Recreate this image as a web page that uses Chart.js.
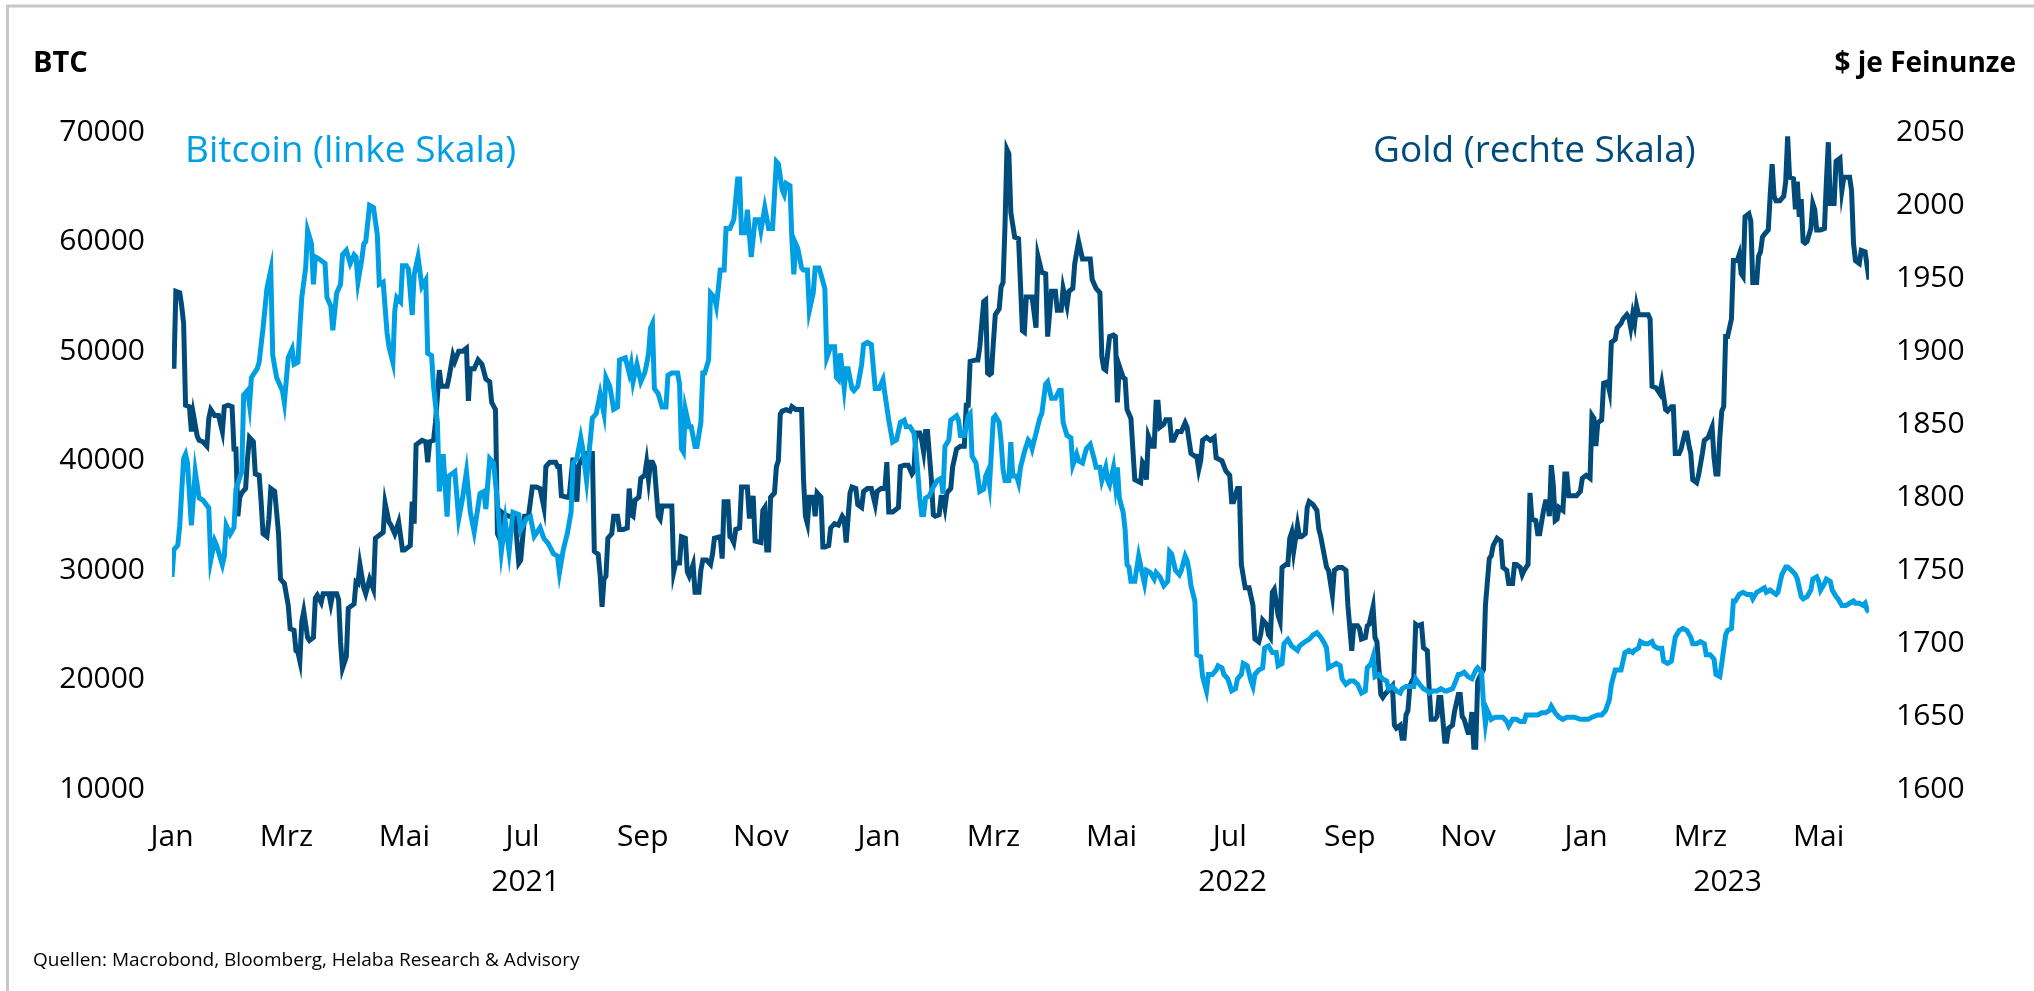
<!DOCTYPE html>
<html lang="de">
<head>
<meta charset="utf-8">
<title>Bitcoin und Gold</title>
<script src="https://cdn.jsdelivr.net/npm/chart.js@4.4.1/dist/chart.umd.min.js"></script>
<style>
  html, body { margin: 0; padding: 0; background: #ffffff; }
  body { width: 2034px; height: 991px; position: relative; overflow: hidden; font-family: 'Open Sans', sans-serif; }
  #chart { position: absolute; left: 0; top: 0; }
  #overlay { position: absolute; left: 0; top: 0; pointer-events: none; }
</style>
</head>
<body>
<canvas id="chart" width="2034" height="991"></canvas>
<svg id="overlay" width="2034" height="991" xmlns="http://www.w3.org/2000/svg" font-family="'Open Sans', sans-serif">
  <path d="M7.5 991 V6 H2034" fill="none" stroke="#c8c8c8" stroke-width="3"/>
  <text x="33" y="72" font-size="29" font-weight="700" fill="#000000">BTC</text>
  <text x="2016" y="72" font-size="28" font-weight="700" fill="#000000" text-anchor="end">$ je Feinunze</text>
  <text x="185" y="162" font-size="37" fill="#009fe3">Bitcoin (linke Skala)</text>
  <text x="1373" y="162" font-size="37" fill="#004b7a">Gold (rechte Skala)</text>
  <text x="33" y="966" font-size="19" fill="#000000">Quellen: Macrobond, Bloomberg, Helaba Research &amp; Advisory</text>
</svg>
<script>
// Days counted from 1 January 2021.
const btcDay = [
  0, 1, 3, 4, 6, 7, 8, 10, 12, 14,
  16, 19, 20, 22, 23, 26, 27, 28, 30, 32,
  33, 36, 37, 39, 40, 41, 44, 45, 47, 49,
  51, 52, 54, 57, 58, 60, 62, 63, 65, 66,
  67, 69, 70, 72, 73, 74, 76, 79, 80, 82,
  83, 85, 87, 88, 90, 92, 94, 95, 96, 98,
  99, 100, 102, 104, 106, 107, 109, 111, 112, 114,
  115, 116, 118, 119, 121, 122, 124, 125, 127, 129,
  131, 132, 134, 135, 137, 138, 140, 142, 143, 146,
  148, 150, 152, 154, 156, 159, 161, 162, 164, 166,
  168, 170, 172, 174, 176, 179, 180, 183, 185, 187,
  190, 192, 194, 197, 199, 200, 202, 204, 206, 207,
  209, 211, 212, 214, 215, 217, 219, 221, 223, 224,
  226, 228, 230, 231, 234, 236, 237, 238, 240, 242,
  244, 245, 246, 247, 248, 249, 251, 253, 255, 256,
  258, 261, 262, 263, 264, 265, 267, 268, 270, 271,
  273, 274, 275, 277, 278, 280, 281, 282, 283, 285,
  286, 288, 290, 292, 293, 294, 296, 297, 299, 301,
  303, 304, 306, 308, 310, 312, 313, 315, 316, 317,
  319, 320, 321, 322, 323, 325, 326, 328, 329, 331,
  332, 334, 335, 337, 338, 340, 342, 343, 344, 345,
  347, 348, 349, 351, 352, 354, 356, 357, 359, 361,
  363, 365, 367, 368, 370, 371, 372, 374, 376, 378,
  379, 381, 383, 384, 386, 387, 388, 389, 391, 393,
  395, 397, 398, 399, 401, 402, 405, 406, 407, 409,
  411, 412, 413, 415, 417, 419, 420, 421, 422, 424,
  425, 427, 428, 429, 430, 432, 433, 434, 436, 437,
  438, 440, 442, 443, 444, 446, 448, 449, 451, 452,
  454, 456, 458, 459, 460, 462, 464, 465, 467, 468,
  470, 472, 474, 476, 477, 479, 480, 482, 483, 484,
  486, 487, 488, 489, 491, 492, 493, 494, 495, 497,
  499, 501, 502, 503, 505, 507, 508, 510, 512, 514,
  515, 516, 518, 520, 521, 523, 524, 525, 526, 528,
  529, 531, 532, 534, 535, 537, 539, 540, 542, 543,
  545, 547, 549, 550, 552, 553, 555, 557, 558, 559,
  561, 563, 564, 566, 568, 570, 571, 573, 574, 576,
  578, 581, 582, 585, 587, 589, 591, 593, 595, 596,
  597, 599, 601, 603, 604, 606, 608, 610, 612, 614,
  616, 617, 619, 620, 621, 623, 625, 627, 628, 630,
  632, 634, 635, 637, 639, 641, 642, 644, 646, 648,
  649, 651, 653, 655, 657, 658, 661, 662, 664, 665,
  667, 669, 671, 673, 674, 676, 677, 678, 679, 681,
  683, 685, 687, 689, 690, 692, 694, 696, 698, 699,
  701, 703, 705, 707, 709, 711, 712, 714, 716, 718,
  720, 722, 724, 727, 729, 731, 733, 736, 738, 740,
  742, 743, 745, 747, 748, 750, 752, 754, 755, 757,
  758, 760, 762, 764, 765, 767, 769, 770, 772, 774,
  776, 778, 780, 782, 784, 785, 787, 789, 791, 792,
  794, 796, 797, 799, 800, 802, 803, 805, 806, 807,
  809, 811, 813, 815, 816, 818, 820, 822, 823, 825,
  828, 829, 831, 833, 834, 836, 838, 839, 841, 842,
  844, 846, 847, 849, 850, 851, 853, 854, 856, 857,
  859, 860, 862, 864, 866, 868, 869, 871, 873, 874,
  875, 876
];

// Bitcoin in US-Dollar (left scale).
const btcUsd = [
  29400, 31900, 32300, 34100, 40200, 40600, 39800, 34100, 39000, 36600,
  36400, 35700, 30900, 32700, 32300, 30500, 31300, 34100, 33300, 33900,
  37400, 39000, 46000, 46400, 45100, 47600, 48400, 49000, 52100, 55700,
  57400, 49600, 47600, 46400, 45300, 49400, 50200, 48800, 49000, 52100,
  54900, 57600, 61000, 59800, 56100, 58600, 58400, 58000, 54900, 54100,
  51900, 55300, 56100, 58800, 59200, 58000, 58800, 58600, 56300, 58400,
  59800, 60000, 63300, 63100, 60600, 56100, 56300, 51700, 50400, 49000,
  53700, 54900, 54500, 57800, 57800, 57500, 53300, 57000, 58600, 55900,
  56500, 49800, 49600, 46800, 43500, 37200, 40600, 34900, 38600, 39000,
  34700, 36600, 39000, 35300, 33500, 37000, 37200, 35600, 40200, 39800,
  36200, 31700, 34500, 31700, 35300, 35100, 33700, 34700, 34900, 33100,
  33900, 32900, 32500, 31500, 31300, 29800, 31900, 33300, 35300, 39800,
  40200, 42100, 41100, 38200, 40200, 43900, 44300, 46100, 44300, 47600,
  46800, 44700, 44900, 49200, 49400, 48000, 48800, 47200, 48800, 47200,
  48000, 48800, 49800, 52100, 52500, 46600, 46100, 44900, 44900, 47800,
  48000, 48000, 47000, 41100, 40800, 44700, 43100, 43100, 41300, 41300,
  43500, 48000, 48000, 49200, 55300, 54900, 54100, 55700, 57400, 57400,
  61200, 61200, 62000, 65700, 65700, 60800, 60800, 62900, 58600, 62000,
  62000, 61000, 63100, 61200, 61200, 67300, 67100, 64700, 64300, 65300,
  65100, 60200, 57000, 59800, 59400, 57600, 57400, 57400, 53700, 55300,
  57600, 57600, 57000, 55700, 49400, 50400, 50400, 47600, 47400, 49800,
  46600, 48400, 48400, 46600, 46400, 46800, 48800, 50600, 50800, 50600,
  46600, 46600, 47400, 46100, 43700, 42700, 41700, 41900, 43500, 43700,
  43100, 43100, 42500, 41100, 36600, 35100, 35100, 36600, 36800, 37600,
  38200, 38400, 37000, 41300, 41900, 43700, 44100, 43700, 42300, 42300,
  44100, 44300, 40400, 39800, 37200, 37400, 38600, 39000, 37800, 43900,
  44100, 43500, 41700, 39200, 38200, 38200, 41700, 38600, 38600, 38000,
  39400, 40800, 41900, 41700, 41100, 42500, 43900, 44300, 47000, 47200,
  45700, 45700, 46400, 46400, 43500, 42300, 42100, 39600, 40600, 40000,
  39800, 41100, 41500, 40200, 39400, 39400, 38200, 39400, 38200, 37800,
  39400, 37800, 39400, 36600, 35300, 33700, 30500, 30300, 29000, 29000,
  31300, 29600, 28800, 30000, 29800, 29200, 29800, 29400, 28600, 29000,
  31700, 31500, 30000, 29600, 30000, 31300, 30900, 30000, 28600, 27200,
  22300, 22100, 20300, 19000, 20500, 20500, 20900, 21300, 21100, 20500,
  20100, 19000, 19200, 20100, 20500, 21500, 21300, 19900, 19400, 20500,
  20900, 21100, 22900, 23100, 22500, 22500, 21300, 21500, 23300, 23700,
  23100, 22700, 23100, 23500, 23700, 24100, 24300, 23900, 23300, 22900,
  21100, 21300, 21500, 21300, 20100, 19600, 19900, 19900, 19600, 18800,
  19000, 21100, 21500, 22100, 20300, 20500, 20100, 19900, 19200, 19400,
  19000, 18800, 19200, 19400, 19400, 19400, 20100, 19600, 19200, 19000,
  18800, 19000, 19000, 19200, 19000, 19000, 19200, 19600, 20500, 20500,
  20700, 20300, 20100, 20900, 21100, 20700, 17800, 16000, 17200, 16400,
  16600, 16600, 16600, 16200, 15800, 16400, 16400, 16200, 16200, 16800,
  16800, 16800, 16800, 17000, 17000, 17200, 17600, 17000, 16600, 16400,
  16600, 16600, 16600, 16400, 16400, 16400, 16600, 16800, 16800, 17200,
  18200, 19600, 20900, 20900, 20900, 22500, 22700, 22500, 22700, 22900,
  23500, 23300, 23300, 23500, 23100, 22900, 22900, 21700, 21500, 21700,
  23900, 24500, 24700, 24500, 23900, 23300, 23300, 23500, 23300, 22300,
  22300, 21900, 20500, 20300, 21500, 24100, 24500, 24700, 27200, 27200,
  27800, 28000, 27800, 27800, 27400, 28000, 28200, 28400, 28000, 28200,
  27800, 28000, 29600, 30300, 30300, 30000, 29600, 29200, 27600, 27400,
  27600, 28200, 29200, 29400, 29000, 28200, 28800, 29200, 29000, 28200,
  27600, 27400, 26800, 26800, 27000, 27200, 27000, 27000, 26800, 27000,
  26400, 26200
];

// Trading days for gold, counted from 1 January 2021.
const goldDay = [
  1, 2, 4, 5, 6, 7, 9, 10, 11, 13,
  14, 16, 18, 19, 20, 22, 24, 26, 27, 29,
  31, 32, 33, 34, 35, 36, 38, 39, 40, 42,
  43, 45, 46, 47, 49, 50, 51, 53, 54, 55,
  56, 58, 60, 61, 63, 64, 65, 66, 67, 68,
  70, 71, 73, 74, 75, 77, 78, 81, 82, 83,
  85, 86, 87, 88, 90, 91, 92, 94, 95, 96,
  97, 99, 100, 102, 104, 105, 106, 109, 110, 112,
  113, 115, 117, 119, 120, 123, 124, 125, 126, 129,
  131, 132, 133, 135, 136, 138, 139, 142, 143, 145,
  146, 148, 150, 152, 153, 154, 156, 158, 160, 162,
  164, 165, 167, 168, 169, 170, 172, 174, 177, 179,
  180, 182, 184, 186, 188, 190, 192, 193, 195, 198,
  199, 200, 201, 204, 205, 207, 209, 210, 212, 214,
  217, 218, 220, 221, 222, 223, 224, 225, 227, 228,
  230, 231, 233, 235, 236, 237, 238, 239, 241, 242,
  244, 245, 246, 247, 248, 249, 251, 252, 253, 255,
  257, 258, 259, 260, 262, 263, 265, 266, 267, 269,
  270, 272, 273, 274, 276, 278, 279, 280, 283, 284,
  285, 287, 288, 289, 290, 291, 293, 294, 297, 298,
  299, 300, 301, 304, 305, 306, 307, 308, 309, 311,
  312, 313, 314, 315, 317, 319, 320, 322, 325, 326,
  327, 328, 329, 331, 332, 333, 335, 336, 337, 339,
  340, 342, 344, 346, 347, 348, 350, 351, 353, 354,
  356, 357, 359, 361, 363, 364, 366, 368, 369, 370,
  372, 373, 375, 376, 378, 380, 382, 383, 384, 386,
  387, 388, 389, 390, 392, 393, 394, 396, 397, 398,
  399, 400, 402, 403, 405, 407, 409, 410, 411, 412,
  415, 416, 417, 419, 420, 421, 422, 423, 424, 425,
  427, 428, 429, 430, 431, 432, 433, 435, 437, 439,
  440, 441, 443, 444, 446, 447, 449, 451, 452, 454,
  456, 457, 459, 460, 462, 463, 465, 466, 468, 470,
  472, 474, 475, 477, 479, 480, 481, 482, 484, 486,
  487, 488, 489, 491, 492, 493, 495, 496, 497, 500,
  501, 502, 503, 504, 506, 507, 508, 509, 510, 512,
  513, 515, 516, 517, 519, 521, 523, 524, 526, 528,
  529, 530, 531, 532, 534, 536, 538, 539, 542, 544,
  546, 547, 548, 550, 551, 552, 554, 556, 558, 559,
  561, 562, 563, 565, 566, 567, 568, 569, 571, 572,
  573, 575, 576, 577, 578, 579, 581, 582, 583, 585,
  586, 587, 589, 591, 592, 593, 594, 596, 597, 599,
  600, 602, 604, 606, 607, 609, 610, 612, 613, 614,
  616, 617, 618, 620, 621, 622, 624, 625, 626, 628,
  630, 631, 632, 634, 635, 636, 637, 638, 639, 640,
  641, 642, 643, 645, 646, 648, 649, 650, 652, 653,
  654, 655, 657, 658, 659, 661, 662, 664, 665, 666,
  667, 669, 670, 671, 672, 673, 674, 675, 677, 678,
  680, 681, 682, 684, 686, 687, 689, 690, 692, 693,
  694, 696, 697, 698, 700, 701, 702, 704, 705, 706,
  708, 709, 710, 711, 712, 713, 714, 715, 716, 718,
  719, 720, 721, 723, 725, 727, 728, 730, 732, 733,
  734, 735, 736, 738, 739, 741, 742, 743, 745, 746,
  748, 749, 751, 752, 753, 754, 755, 756, 757, 760,
  762, 763, 764, 766, 768, 769, 771, 772, 774, 775,
  776, 778, 779, 781, 782, 783, 784, 785, 787, 788,
  790, 791, 793, 795, 796, 797, 798, 799, 800, 801,
  802, 803, 805, 806, 808, 809, 810, 811, 812, 814,
  815, 816, 818, 819, 820, 821, 822, 824, 825, 826,
  827, 828, 830, 832, 833, 834, 835, 837, 838, 839,
  840, 841, 842, 843, 844, 846, 847, 848, 849, 851,
  853, 854, 855, 856, 858, 859, 861, 862, 863, 866,
  867, 868, 869, 871, 872, 874, 876
];

// Gold in US-Dollar per troy ounce (right scale).
const goldUsd = [
  1888, 1941, 1940, 1931, 1919, 1863, 1862, 1845, 1857, 1842,
  1839, 1838, 1835, 1854, 1860, 1856, 1856, 1845, 1862, 1863,
  1862, 1833, 1833, 1787, 1800, 1803, 1806, 1827, 1841, 1838,
  1816, 1815, 1797, 1775, 1773, 1785, 1806, 1804, 1790, 1775,
  1744, 1741, 1726, 1710, 1709, 1695, 1694, 1688, 1715, 1722,
  1704, 1702, 1704, 1731, 1733, 1728, 1734, 1734, 1727, 1734,
  1734, 1730, 1701, 1683, 1691, 1724, 1725, 1727, 1742, 1741,
  1754, 1738, 1734, 1744, 1737, 1772, 1773, 1776, 1796, 1783,
  1781, 1775, 1783, 1764, 1764, 1767, 1797, 1782, 1836, 1839,
  1838, 1824, 1838, 1839, 1851, 1887, 1876, 1876, 1882, 1897,
  1893, 1900, 1900, 1902, 1866, 1888, 1888, 1894, 1891, 1881,
  1879, 1865, 1860, 1775, 1772, 1790, 1788, 1787, 1787, 1755,
  1757, 1787, 1787, 1807, 1807, 1806, 1793, 1821, 1824, 1824,
  1821, 1821, 1801, 1800, 1800, 1827, 1797, 1822, 1827, 1830,
  1830, 1763, 1761, 1747, 1725, 1744, 1746, 1772, 1775, 1787,
  1787, 1778, 1778, 1779, 1806, 1788, 1787, 1798, 1800, 1813,
  1815, 1824, 1812, 1824, 1824, 1821, 1787, 1785, 1794, 1794,
  1794, 1794, 1749, 1755, 1755, 1773, 1772, 1749, 1746, 1754,
  1735, 1735, 1750, 1757, 1757, 1754, 1761, 1772, 1773, 1758,
  1797, 1797, 1773, 1772, 1769, 1778, 1779, 1807, 1807, 1787,
  1787, 1801, 1770, 1769, 1791, 1793, 1764, 1764, 1800, 1803,
  1821, 1825, 1857, 1859, 1860, 1859, 1862, 1860, 1860, 1812,
  1787, 1782, 1800, 1800, 1787, 1803, 1800, 1766, 1766, 1767,
  1779, 1782, 1781, 1787, 1785, 1769, 1803, 1807, 1806, 1795,
  1793, 1804, 1806, 1806, 1795, 1804, 1806, 1806, 1824, 1790,
  1790, 1791, 1793, 1821, 1822, 1822, 1816, 1818, 1844, 1844,
  1839, 1831, 1845, 1845, 1812, 1788, 1787, 1788, 1800, 1800,
  1793, 1803, 1806, 1821, 1833, 1835, 1835, 1863, 1863, 1893,
  1894, 1894, 1903, 1934, 1935, 1885, 1884, 1885, 1906, 1925,
  1929, 1944, 1947, 1986, 2038, 2035, 1995, 1978, 1977, 1914,
  1913, 1937, 1937, 1937, 1916, 1965, 1954, 1953, 1910, 1941,
  1941, 1928, 1928, 1943, 1931, 1941, 1943, 1960, 1975, 1963,
  1963, 1963, 1949, 1943, 1940, 1896, 1888, 1887, 1910, 1911,
  1910, 1865, 1890, 1882, 1881, 1860, 1854, 1833, 1812, 1810,
  1824, 1822, 1812, 1842, 1835, 1835, 1865, 1865, 1848, 1850,
  1853, 1853, 1839, 1839, 1845, 1845, 1851, 1848, 1830, 1828,
  1828, 1819, 1825, 1839, 1841, 1839, 1841, 1827, 1825, 1818,
  1815, 1797, 1797, 1806, 1806, 1754, 1738, 1738, 1726, 1703,
  1701, 1706, 1716, 1713, 1706, 1704, 1735, 1737, 1719, 1715,
  1752, 1754, 1754, 1772, 1776, 1763, 1781, 1773, 1773, 1775,
  1793, 1797, 1795, 1791, 1778, 1773, 1766, 1752, 1750, 1733,
  1750, 1752, 1752, 1750, 1726, 1695, 1712, 1712, 1710, 1703,
  1704, 1712, 1713, 1725, 1704, 1701, 1665, 1663, 1665, 1668,
  1671, 1644, 1642, 1644, 1635, 1635, 1651, 1654, 1671, 1674,
  1676, 1713, 1712, 1713, 1697, 1695, 1668, 1648, 1648, 1650,
  1663, 1663, 1633, 1633, 1642, 1644, 1653, 1665, 1665, 1650,
  1648, 1639, 1639, 1653, 1629, 1629, 1674, 1677, 1682, 1726,
  1758, 1760, 1767, 1772, 1770, 1752, 1750, 1741, 1741, 1754,
  1754, 1752, 1747, 1750, 1754, 1803, 1785, 1784, 1775, 1775,
  1791, 1797, 1797, 1787, 1822, 1809, 1784, 1785, 1793, 1791,
  1816, 1816, 1801, 1801, 1801, 1804, 1813, 1815, 1813, 1856,
  1854, 1835, 1851, 1853, 1878, 1879, 1873, 1906, 1908, 1916,
  1919, 1922, 1925, 1923, 1916, 1925, 1919, 1931, 1925, 1925,
  1925, 1922, 1876, 1875, 1871, 1878, 1860, 1859, 1862, 1862,
  1830, 1830, 1833, 1844, 1844, 1836, 1830, 1812, 1810, 1815,
  1830, 1839, 1841, 1848, 1827, 1816, 1816, 1841, 1859, 1862,
  1910, 1910, 1922, 1962, 1962, 1966, 1953, 1951, 1992, 1994,
  1989, 1947, 1947, 1965, 1968, 1978, 1980, 1983, 2007, 2028,
  2006, 2003, 2003, 2006, 2016, 2047, 2019, 2018, 1997, 2016,
  1992, 2004, 1975, 1974, 1975, 1984, 2001, 1997, 1983, 1983,
  1984, 2016, 2043, 2001, 2001, 2030, 2032, 2010, 2019, 2019,
  2010, 1974, 1962, 1960, 1969, 1968, 1949
];

// Month ticks on the time axis (first day of every second month).
const monthTickDay = [0, 59, 120, 181, 243, 304, 365, 424, 485, 546, 608, 669, 730, 789, 850];
const monthTickLabel = ['Jan', 'Mrz', 'Mai', 'Jul', 'Sep', 'Nov', 'Jan', 'Mrz', 'Mai', 'Jul', 'Sep', 'Nov', 'Jan', 'Mrz', 'Mai'];

// Years shown below the months, centred on the part of each year that is visible.
const yearLabel = ['2021', '2022', '2023'];
const yearStartDay = [0, 365, 730];
const lastDay = 876;

const btcTicks = [10000, 20000, 30000, 40000, 50000, 60000, 70000];
const goldTicks = [1600, 1650, 1700, 1750, 1800, 1850, 1900, 1950, 2000, 2050];

const BTC_BLUE = '#009fe3';
const GOLD_NAVY = '#004b7a';

if (btcDay.length !== btcUsd.length || goldDay.length !== goldUsd.length) {
  console.error('series length mismatch', btcDay.length, btcUsd.length, goldDay.length, goldUsd.length);
}

// Tick positions and their labels for the time axis.
const xTickLabels = new Map();
monthTickDay.forEach((d, i) => xTickLabels.set(d, [monthTickLabel[i]]));
yearLabel.forEach((y, i) => {
  const end = i + 1 < yearStartDay.length ? yearStartDay[i + 1] : lastDay;
  xTickLabels.set((yearStartDay[i] + end) / 2, ['', y]);
});
const xTickValues = Array.from(xTickLabels.keys()).sort((a, b) => a - b);

const TICK_FONT = { family: "'Open Sans', sans-serif", size: 30, lineHeight: 1.2 };
const X_TICK_FONT = { family: "'Open Sans', sans-serif", size: 30, lineHeight: 1.5 };

new Chart(document.getElementById('chart'), {
  type: 'line',
  data: {
    datasets: [
      {
        label: 'Bitcoin (linke Skala)',
        data: btcDay.map((d, i) => ({ x: d, y: btcUsd[i] })),
        yAxisID: 'yBtc',
        borderColor: BTC_BLUE,
        borderWidth: 5,
        pointRadius: 0,
        tension: 0,
        fill: false
      },
      {
        label: 'Gold (rechte Skala)',
        data: goldDay.map((d, i) => ({ x: d, y: goldUsd[i] })),
        yAxisID: 'yGold',
        borderColor: GOLD_NAVY,
        borderWidth: 5,
        pointRadius: 0,
        tension: 0,
        fill: false
      }
    ]
  },
  options: {
    responsive: false,
    animation: false,
    events: [],
    layout: { padding: { top: 132, bottom: 0, left: 0, right: 0 } },
    plugins: { legend: { display: false }, tooltip: { enabled: false } },
    scales: {
      x: {
        type: 'linear',
        min: 0,
        max: lastDay,
        grid: { display: false, drawTicks: false },
        border: { display: false },
        afterBuildTicks: (scale) => { scale.ticks = xTickValues.map(v => ({ value: v })); },
        afterFit: (scale) => { scale.height = 991 - 789.5; },
        ticks: {
          autoSkip: false,
          maxRotation: 0,
          minRotation: 0,
          padding: 25.5,
          color: '#000000',
          font: X_TICK_FONT,
          callback: (value) => xTickLabels.get(value) || ''
        }
      },
      yBtc: {
        position: 'left',
        min: 10000,
        max: 70000,
        grid: { display: false, drawTicks: false },
        border: { display: false },
        afterBuildTicks: (scale) => { scale.ticks = btcTicks.map(v => ({ value: v })); },
        afterFit: (scale) => { scale.width = 172; },
        ticks: { padding: 27, color: '#000000', font: TICK_FONT, callback: (v) => String(v) }
      },
      yGold: {
        position: 'right',
        min: 1600,
        max: 2050,
        grid: { display: false, drawTicks: false },
        border: { display: false },
        afterBuildTicks: (scale) => { scale.ticks = goldTicks.map(v => ({ value: v })); },
        afterFit: (scale) => { scale.width = 2034 - 1869; },
        ticks: { padding: 27, color: '#000000', font: TICK_FONT, callback: (v) => String(v) }
      }
    }
  }
});
</script>
</body>
</html>
